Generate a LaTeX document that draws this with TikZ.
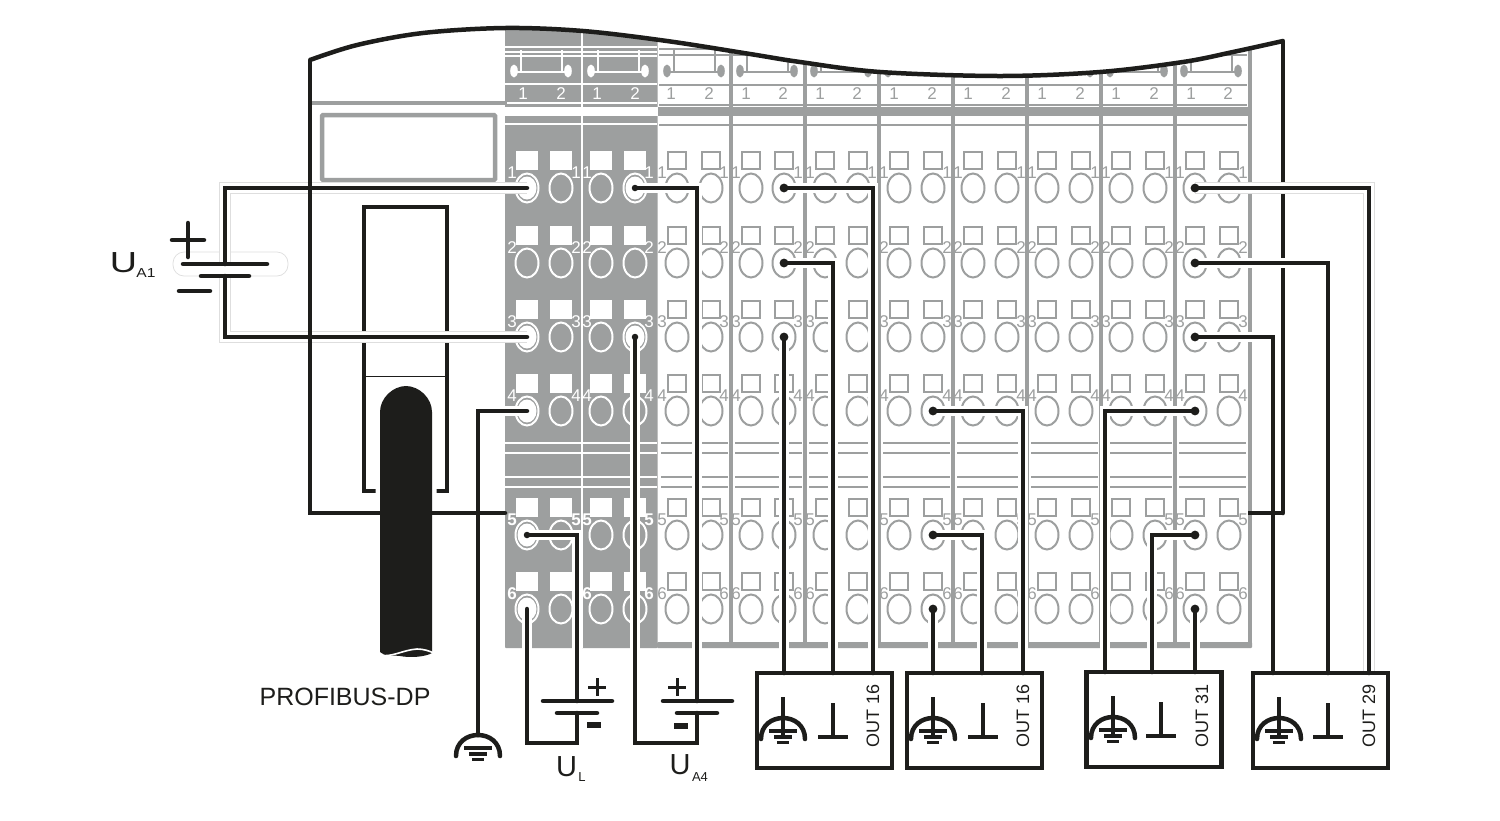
\documentclass[tikz,border=0pt]{standalone}
\usepackage{fontspec}
\setmainfont{Liberation Sans}
\definecolor{ink}{HTML}{1D1D1B}
\definecolor{mod}{HTML}{9D9F9F}
\definecolor{haloline}{HTML}{DEDEDE}
\newcommand{\topcurve}{plot[smooth,tension=0.55] coordinates {(310,60) (357,45) (423,33) (505,28) (583,31) (667,41) (750,54) (800,62) (880,72) (1000,76) (1100,72) (1183,62) (1233,52) (1283,41)}}
\tikzset{
  blk/.style={line width=4.5pt,draw=ink,line cap=round,line join=miter},
  wire/.style={line width=4.5pt,draw=ink,line cap=round,line join=miter,
    preaction={draw=white,line width=10.5pt,line cap=butt}},
  outlinedwire/.style={line width=4.5pt,draw=ink,line cap=round,line join=miter,
    preaction={draw=haloline,line width=12pt,line cap=butt},
    preaction={draw=white,line width=10.8pt,line cap=butt}},
  plate/.style={line width=4.5pt,draw=ink,line cap=round},
  gl/.style={line width=1.6pt,draw=mod},
  wl/.style={line width=1.6pt,draw=white},
  obox/.style={fill=white,outer sep=0pt,minimum width=135pt,minimum height=95pt,inner sep=0pt},
  outlabel/.style={font=\fontsize{18}{18}\selectfont,rotate=90,text=ink,inner sep=0pt},
  ulabel/.style={font=\fontsize{29}{29}\selectfont,text=ink,inner sep=0pt},
  sublabel/.style={font=\fontsize{13}{13}\selectfont,text=ink,inner sep=0pt},
  dot/.style={fill=ink,draw=none,circle,minimum size=8.8pt,inner sep=0pt},
}
\newcommand{\earthsym}[1]{% #1 centre x, arc top at y=0 in a scope
  \draw[line width=4.5pt,draw=ink,line cap=round] (#1-22,21) .. controls (#1-22,7) and (#1-11,0) .. (#1,0) .. controls (#1+11,0) and (#1+22,7) .. (#1+22,21);
  \draw[line width=3.6pt,draw=ink] (#1-14,13) -- (#1+14,13);
  \draw[line width=3.6pt,draw=ink] (#1-9,19) -- (#1+9,19);
  \draw[line width=3.6pt,draw=ink] (#1-6,24.5) -- (#1+6,24.5);
}
\begin{document}
\begin{tikzpicture}[x=1pt,y=-1pt]
\useasboundingbox (0,0) rectangle (1500,820);
\fill[white] (0,0) rectangle (1500,820);

% ---------- terminal block, clipped by the housing curve
\begin{scope}
\clip \topcurve -- (1300,700) -- (290,700) -- cycle;
\fill[mod,rounded corners=1pt] (505,0) rectangle (657.5,648);
\fill[mod,rounded corners=1pt] (657,642) rectangle (1252,648);
\fill[mod] (657,107) rectangle (1252,116);
\fill[white] (505,107) rectangle (657.5,116);
% module lines
\foreach \l/\r in {505/581,583/657}{
  \foreach \y in {47,52,56,84,103,124,443,453,477,487}
    \draw[wl] (\l,\y) -- (\r,\y);
}
\draw[line width=1.6pt,draw=white] (582,0) -- (582,648);
\foreach \l in {658,732,806,880,954,1028,1102,1176}{
  \foreach \y in {49,55,85,105,125}
    \draw[gl] (\l+1,\y) -- (\l+71,\y);
  \foreach \y in {443,453,477,487}
    \draw[gl] (\l+3,\y) -- (\l+70,\y);
}
\foreach \x in {731,805,879,953,1027,1101,1175,1250}
  \draw[line width=4pt,draw=mod] (\x,30) -- (\x,644);
% brackets
\foreach \l/\c in {505/white,582/white,658/mod,731/mod,805/mod,879/mod,953/mod,1027/mod,1101/mod,1175/mod}{
  \draw[line width=1.6pt,draw=\c] (\l+16,50) -- (\l+16,72) (\l+57,50) -- (\l+57,72) (\l+9,72) -- (\l+63,72);
  \fill[\c] (\l+9,71) ellipse (3.8 and 6.5);
  \fill[\c] (\l+63,71) ellipse (3.8 and 6.5);
}
% top numbering
\foreach \x/\d/\c in {523/1/white,561/2/white,597/1/white,635/2/white,
  671/1/mod,709/2/mod,746/1/mod,783/2/mod,820/1/mod,857/2/mod,894/1/mod,932/2/mod,
  968/1/mod,1006/2/mod,1042/1/mod,1080/2/mod,1116/1/mod,1154/2/mod,1191/1/mod,1228/2/mod}
  \node[text=\c,inner sep=0pt,font=\fontsize{17}{17}\selectfont] at (\x,94) {\d};
% terminals: oval, square, number
\foreach \c/\x/\side in {1/527/-15,2/561/15,3/601/-14,4/635/14,5/677/-15,6/711/13,7/751/-15,8/784/14,9/825/-15,10/858/14,11/899/-15,12/933/14,13/973/-15,14/1007/14,15/1047/-15,16/1081/14,17/1121/-15,18/1155/14,19/1195/-15,20/1229/14}{
  \foreach \r/\y in {1/188,2/263,3/337,4/411,5/535,6/609}{
    \coordinate (T\c-\r) at (\x,\y);
    \ifnum\c<5
      \draw[draw=white,line width=2pt] (\x,\y) ellipse (11.5 and 14.5);
      \fill[white] (\x-11,\y-37) rectangle (\x+11,\y-18);
      \ifnum\r>4
        \node[text=white,inner sep=0pt,font=\fontsize{17}{17}\selectfont\bfseries] at (\x+\side,\y-15) {\r};
      \else
        \node[text=white,inner sep=0pt,font=\fontsize{17}{17}\selectfont] at (\x+\side,\y-15) {\r};
      \fi
    \else
      \draw[draw=mod,line width=2pt] (\x,\y) ellipse (11.5 and 14.5);
      \draw[draw=mod,line width=1.8pt] (\x-9,\y-36) rectangle (\x+9,\y-19);
      \node[text=mod,inner sep=0pt,font=\fontsize{17}{17}\selectfont] at (\x+\side,\y-15) {\r};
    \fi
  }
}
\end{scope}

% ---------- housing parts under the wires
\draw[line width=4pt,draw=mod] (310,103) -- (507,103);
\draw[line width=4.5pt,draw=mod,rounded corners=1pt] (322,115) rectangle (495,180);
\draw[blk,line cap=butt] \topcurve;
\draw[blk] (1283,41) -- (1283,513);
\draw[line width=4pt,draw=ink,line cap=butt] (376,491) -- (364,491) -- (364,207) -- (447,207) -- (447,491) -- (436,491);
\draw[line width=1pt,draw=ink] (364,376) -- (447,376);
% cable
\draw[draw=white,line width=3pt,fill=white] (377,660) -- (377,412) .. controls (377,397) and (392,383) .. (406,383) .. controls (420,383) and (435,397) .. (435,412) -- (435,660) -- cycle;
\fill[ink] (380,652) -- (380,412) .. controls (380,398) and (393,386) .. (406,386) .. controls (419,386) and (432,398) .. (432,412) -- (432,653) .. controls (425,657) and (410,658) .. (400,656) .. controls (392,655) and (385,657) .. (380,652) -- cycle;
\draw[white,line width=1.6pt] (378,655) .. controls (392,658) and (402,650) .. (417,649) .. controls (424,649) and (429,651) .. (434,653);

% ---------- battery halo and fixed points
\draw[draw=haloline,line width=.7pt,fill=white,rounded corners=11pt] (173,252) rectangle (288,276);

\coordinate (UAonetop) at (225,264);
\coordinate (UAonelow) at (225,276);
\coordinate (ULtop) at (577,701);
\coordinate (ULlow) at (577,713);
\coordinate (ULcorner) at (577,743);
\coordinate (UAfourtop) at (697,701);
\coordinate (UAfourlow) at (697,713);
\coordinate (UAfourcorner) at (697,743);
\coordinate (earth) at (478,735);
\coordinate (ja) at (833,0);
\coordinate (jb) at (873,0);
\coordinate (jc) at (982,0);
\coordinate (jd) at (1023,0);
\coordinate (je) at (1105,0);
\coordinate (jf) at (1152,0);
\coordinate (jg) at (1273,0);
\coordinate (jh) at (1328,0);
\coordinate (ji) at (1369,0);

% ---------- output boxes
\node[obox] (bone) at (824.5,720.5) {};
\node[obox] (btwo) at (974.5,720.5) {};
\node[obox] (bthree) at (1154,719.5) {};
\node[obox] (bfour) at (1320.5,720.5) {};

% white collars of the wired terminals on the dark modules
\foreach \t in {T1-1,T1-3,T1-4,T1-5,T1-6,T4-1,T4-3}
  \fill[white] (\t) ellipse (9.5 and 11.5);

% ---------- wires
\draw[outlinedwire] (UAonetop) |- (T1-1);
\draw[outlinedwire] (UAonelow) |- (T1-3);
\draw[wire] (T1-4) -| (earth);
\draw[wire] (T1-5) -| (ULtop);
\draw[wire] (ULlow) -- (ULcorner) -| (T1-6);
\draw[wire] (T4-1) -| (UAfourtop);
\draw[wire] (T4-3) |- (UAfourcorner) -- (UAfourlow);
\draw[wire] (T8-3) -- (T8-3 |- bone.north);
\draw[wire] (T8-2) -| (ja |- bone.north);
\draw[wire] (T8-1) -| (jb |- bone.north);
\draw[wire] (T12-6) -- (T12-6 |- btwo.north);
\draw[wire] (T12-5) -| (jc |- btwo.north);
\draw[wire] (T12-4) -| (jd |- btwo.north);
\draw[wire] (T19-6) -- (T19-6 |- bthree.north);
\draw[wire] (T19-5) -| (jf |- bthree.north);
\draw[wire] (T19-4) -| (je |- bthree.north);
\draw[wire] (T19-3) -| (jg |- bfour.north);
\draw[wire] (T19-2) -| (jh |- bfour.north);
\draw[outlinedwire] (T19-1) -| (ji |- bfour.north);

% ---------- box frames, over the wire ends
\foreach \n in {bone,btwo,bthree,bfour}
  \draw[line width=4.5pt,draw=ink] (\n.north west) rectangle (\n.south east);

% ---------- wire ends
\foreach \t in {T8-1,T8-2,T8-3,T12-4,T12-5,T12-6,T19-1,T19-2,T19-3,T19-4,T19-5,T19-6}
  \node[dot] at (\t) {};
\foreach \t in {T1-5,T4-1,T4-3}
  \node[dot,minimum size=6.5pt] at (\t) {};

% ---------- housing parts over the wires
\draw[blk] (310,60) -- (310,513) -- (505,513);
\draw[blk,line cap=butt] (1283,513) -- (1248,513);

% ---------- batteries
\draw[plate] (183,264) -- (267,264);
\draw[plate] (201,276) -- (249,276);
\draw[plate] (188,223) -- (188,257);
\draw[plate] (172,240) -- (204,240);
\draw[plate] (179,291) -- (210,291);

\draw[plate] (543,701) -- (612,701);
\draw[plate] (557,713) -- (597,713);
\draw[line width=3pt,draw=ink] (597,678) -- (597,696);
\draw[line width=3pt,draw=ink] (588,687) -- (606,687);
\draw[line width=6pt,draw=ink] (587,725) -- (601,725);

\draw[plate] (663,701) -- (732,701);
\draw[plate] (677,713) -- (717,713);
\draw[line width=3pt,draw=ink] (677,678) -- (677,696);
\draw[line width=3pt,draw=ink] (668,687) -- (686,687);
\draw[line width=6pt,draw=ink] (674,726) -- (688,726);

% ---------- earth symbols
\begin{scope}[yshift=-735pt]\earthsym{478}\end{scope}
\foreach \gx/\px/\dy in {783/833/0,933/983/0,1113/1161/-1,1279/1328/0}{
  \begin{scope}[yshift=\dy*(-1pt)]
    \draw[line width=3.6pt,draw=ink] (\gx,697) -- (\gx,738);
    \begin{scope}[yshift=-718pt]\earthsym{\gx}\end{scope}
    \draw[line width=3.6pt,draw=ink] (\px,703) -- (\px,737);
    \draw[line width=4pt,draw=ink] (\px-15,737) -- (\px+15,737);
  \end{scope}
}
% ---------- labels
\node[outlabel] (outa) at (873,716) {OUT 16};
\node[outlabel] (outb) at (1023,716) {OUT 16};
\node[outlabel] (outc) at (1202,716) {OUT 31};
\node[outlabel] (outd) at (1369,716) {OUT 29};
\node[ulabel] (ua) at (123.5,263) {\scalebox{1.3}[1]{U}};
\node[sublabel] (uasub) at (146,273.5) {\scalebox{1.2}[1]{A1}};
\node[ulabel] (ub) at (566.5,767) {U};
\node[sublabel] (ubsub) at (582,777.5) {L};
\node[ulabel] (uc) at (680,765) {U};
\node[sublabel] (ucsub) at (700,777.5) {A4};
\node[inner sep=0pt,text=ink,font=\fontsize{25}{25}\selectfont] (pb) at (345,696.5) {PROFIBUS-DP};
\end{tikzpicture}
\end{document}
